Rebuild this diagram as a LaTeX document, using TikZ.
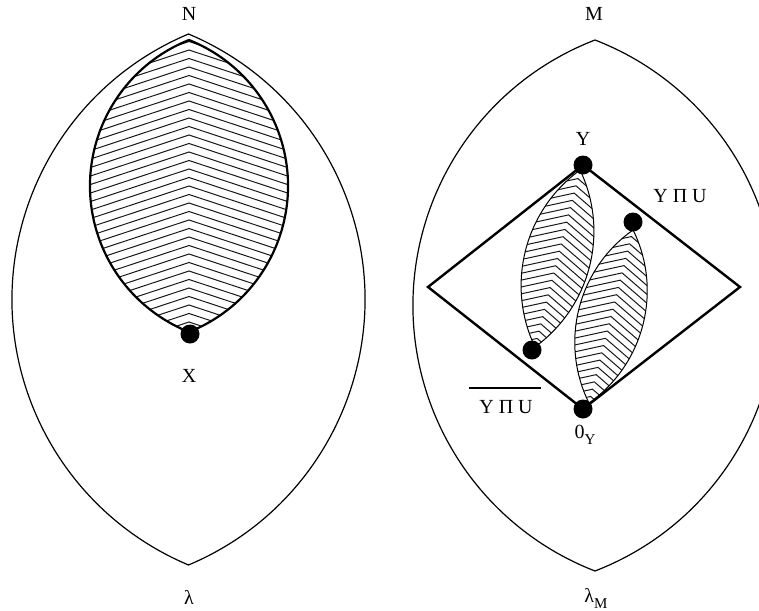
\documentclass[tikz,border=0pt]{standalone}
\usepackage{fontspec}
\setmainfont{Liberation Serif}
\newcommand\setlens[2]{% #1 half-chord, #2 sagitta
  \pgfmathsetmacro\lR{#1*(#1/(2*#2))+#2/2}%
  \pgfmathsetmacro\lphi{asin(#1/\lR)}%
  \def\lenspath{(0,-#1) arc[start angle=180+\lphi, end angle=180-\lphi, radius=\lR] arc[start angle=\lphi, end angle=-\lphi, radius=\lR] -- cycle}%
}
\newcommand\hatchleaf[8]{% cx, cy, rot, half-chord, sagitta, slope, spacing, outline width
  \setlens{#4}{#5}%
  \pgfmathtruncatemacro\nk{(#4+#6*#5)/#7+3}%
  \begin{scope}[shift={(#1,#2)},rotate=#3]
    \begin{scope}
      \clip \lenspath;
      \foreach \k in {-\nk,...,\nk}{
        \draw[hatch] (-#5-4,{\k*#7+#6*(#5+4)}) -- (0,{\k*#7}) -- (#5+4,{\k*#7+#6*(#5+4)});
      }
    \end{scope}
    \draw[line width=#8] \lenspath;
  \end{scope}%
}
\begin{document}
\begin{tikzpicture}[x=1pt,y=-1pt,
  lensline/.style={line width=1.2pt},
  hatch/.style={line width=1pt, black!90},
  dot/.style={circle, fill=black, inner sep=0pt, minimum size=19pt},
  lbl/.style={font=\fontsize{20}{24}\selectfont, inner sep=0pt},
  diamondline/.style={line width=2.4pt, line join=miter}]
\clip (0,0) rectangle (759,610);
% big lenses
\setlens{265.5}{176.5}
\draw[lensline, shift={(188.5,299.5)}] \lenspath;
\setlens{265.5}{182}
\draw[lensline, shift={(595,305.5)}] \lenspath;
% hatched leaves
\hatchleaf{189}{186}{0}{146}{99}{0.33}{8.5}{2.2pt}
\hatchleaf{557.5}{258.5}{-14.3}{91.3}{33}{0.5}{7.5}{1pt}
\hatchleaf{611}{316.5}{-14.3}{89.3}{33}{0.5}{7.5}{1pt}
% dots
\node[dot] (X) at (190,334) {};
\node[dot] (Y) at (583,165) {};
\node[dot] (Z) at (583,409) {};
\node[dot] (P) at (532,350) {};
\node[dot] (Q) at (633,222) {};
% diamond
\coordinate (R) at (740,287);
\coordinate (L) at (428,287);
\draw[diamondline] (Y.center) -- (R) -- (Z.center) -- (L) -- cycle;
% labels
\node[lbl] (Nl) at (189,14) {N};
\node[lbl] (Ml) at (594,14) {M};
\node[lbl] (lam) at (189,597) {λ};
\node[lbl] (lamM) at (596,598) {λ\raisebox{-0.3em}{\fontsize{15}{15}\selectfont M}};
\node[lbl] (Xl) at (189,376) {X};
\node[lbl] (Yl) at (583,139) {Y};
\node[lbl] (YPU) at (680,196) {Y Π U};
\node[lbl] (YPUb) at (506,407) {Y Π U};
\coordinate (ovl) at (469,388);
\coordinate (ovr) at (541,388);
\draw[line width=1.2pt] (ovl) -- (ovr);
\node[lbl] (zero) at (585,435) {0\raisebox{-0.3em}{\fontsize{15}{15}\selectfont Y}};
\end{tikzpicture}
\end{document}
